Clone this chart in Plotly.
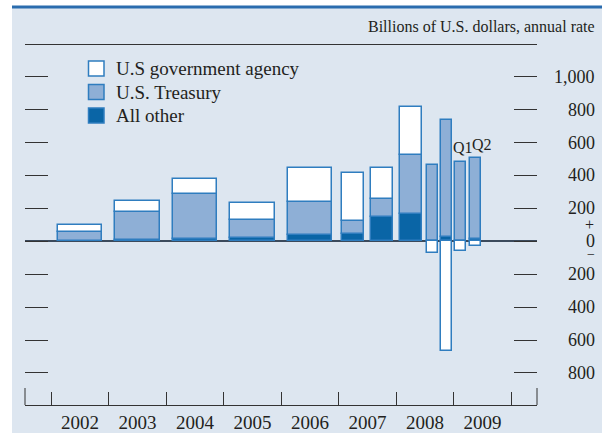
import plotly.graph_objects as go

# foreign purchases of U.S. securities, billions of dollars at an annual rate
periods = ["2002", "2003", "2004", "2005", "2006",
           "2007 H1", "2007 H2", "2008 H1", "2008 Q3", "2008 Q4",
           "2009 Q1", "2009 Q2"]
agency = [44, 71, 89, 102, 208, 290, 187, 292, -73, -665, -57, -27]
treasury = [51, 171, 274, 107, 201, 79, 107, 357, 462, 709, 479, 494]
other = [4, 5, 14, 22, 38, 44, 150, 166, None, 28, 3, 14]

years = ["2002", "2003", "2004", "2005", "2006", "2007", "2008", "2009"]
y_ticks = [-800, -600, -400, -200, 0, 200, 400, 600, 800, 1000]
y_tick_text = ["800", "600", "400", "200", "0", "200", "400", "600", "800", "1,000"]

FONT = "Liberation Serif, Times New Roman, serif"
TEXT = "#231f20"
EDGE = "#2f7dbf"
BG = "#dde6f0"

styling = {
    "U.S government agency": "white",
    "U.S. Treasury": "#8eafd6",
    "All other": "#0a65a6",
}


def period_pos(p):
    # year Y covers [Y-0.5, Y+0.5] on the x axis
    parts = p.split()
    year = int(parts[0])
    if len(parts) == 1:
        return year, 1.0
    length = 0.5 if parts[1][0] == "H" else 0.25
    start = year - 0.5 + (int(parts[1][1]) - 1) * length
    return start + length / 2, length


xs = [period_pos(p)[0] for p in periods]
widths = [0.77 * period_pos(p)[1] for p in periods]


# plot area in pixels: x 25..537, y 45..405
def px(x):
    return (x - 25) / 512.0


def py(y):
    return (405 - y) / 360.0


fig = go.Figure()
for name, vals in [("All other", other), ("U.S. Treasury", treasury),
                   ("U.S government agency", agency)]:
    fig.add_trace(go.Bar(
        name=name, x=xs, y=vals, width=widths, showlegend=False, hoverinfo="skip",
        marker=dict(color=styling[name], line=dict(color=EDGE, width=1.5)),
    ))

shapes = [
    dict(type="rect", xref="paper", yref="paper", x0=px(0), x1=px(12), y0=py(433), y1=py(0),
         fillcolor="white", line_width=0, layer="below"),
    dict(type="rect", xref="paper", yref="paper", x0=px(0), x1=px(602), y0=py(6), y1=py(0),
         fillcolor="white", line_width=0, layer="below"),
    dict(type="line", xref="paper", yref="paper", x0=px(12), x1=px(602), y0=py(7), y1=py(7),
         line=dict(color="#2a6cae", width=3)),
    # taller end ticks of the year axis
    dict(type="line", xref="paper", yref="paper", x0=0, x1=0, y0=0, y1=py(388),
         line=dict(color="#333", width=1)),
    dict(type="line", xref="paper", yref="paper", x0=1, x1=1, y0=0, y1=py(388),
         line=dict(color="#333", width=1)),
]

annotations = []
# legend
for i, name in enumerate(["U.S government agency", "U.S. Treasury", "All other"]):
    top = 61 + i * 23.5
    shapes.append(dict(type="rect", xref="paper", yref="paper",
                       x0=px(88.5), x1=px(104), y0=py(top + 15), y1=py(top),
                       fillcolor=styling[name], line=dict(color=EDGE, width=1.5)))
    annotations.append(dict(xref="paper", yref="paper", x=px(114), y=py(top + 7.5),
                            text=name, showarrow=False, xanchor="left", yanchor="middle",
                            font=dict(family=FONT, size=19, color=TEXT)))

# right-hand value labels
for v, t in zip(y_ticks, y_tick_text):
    annotations.append(dict(xref="paper", yref="y", x=px(597), y=v, text=t,
                            showarrow=False, xanchor="right", yanchor="middle",
                            font=dict(family=FONT, size=18, color=TEXT)))
annotations.append(dict(xref="paper", yref="y", x=px(596), y=0, yshift=17, text="+",
                        showarrow=False, xanchor="right", yanchor="middle",
                        font=dict(family=FONT, size=16, color=TEXT)))
annotations.append(dict(xref="paper", yref="y", x=px(597), y=0, yshift=-13, text="\u2212",
                        showarrow=False, xanchor="right", yanchor="middle",
                        font=dict(family=FONT, size=14, color=TEXT)))

# quarter markers
q1 = periods.index("2009 Q1")
q2 = periods.index("2009 Q2")
annotations.append(dict(x=xs[q1], y=treasury[q1] + other[q1], xshift=2, yshift=4,
                        text="Q1", showarrow=False, yanchor="bottom",
                        font=dict(family=FONT, size=16, color=TEXT)))
annotations.append(dict(x=xs[q2], y=treasury[q2] + other[q2], xshift=7, yshift=3,
                        text="Q2", showarrow=False, yanchor="bottom",
                        font=dict(family=FONT, size=16, color=TEXT)))

annotations.append(dict(xref="paper", yref="paper", x=px(597), y=py(26.5),
                        text="Billions of U.S. dollars, annual rate", showarrow=False,
                        xanchor="right", yanchor="middle",
                        font=dict(family=FONT, size=16, color=TEXT)))

boundaries = [int(y) - 0.5 for y in years] + [int(years[-1]) + 0.5]

fig.update_layout(
    width=602, height=433, autosize=False,
    margin=dict(l=25, r=65, t=45, b=28, pad=0),
    paper_bgcolor=BG, plot_bgcolor=BG,
    barmode="relative", bargap=0,
    font=dict(family=FONT, size=19, color=TEXT),
    shapes=shapes, annotations=annotations,
    xaxis=dict(
        range=[2001.043, 2009.948], tickmode="array", automargin=False,
        tickvals=[int(y) for y in years], ticktext=years, ticks="",
        showline=True, mirror=True, linecolor="#333", linewidth=1,
        showgrid=False, zeroline=False, ticklabelstandoff=0,
        tickfont=dict(family=FONT, size=19, color=TEXT),
        minor=dict(tickmode="array", tickvals=boundaries, ticks="inside",
                   ticklen=13, tickcolor="#333", tickwidth=1, showgrid=False),
    ),
    yaxis=dict(
        range=[-995, 1193], tickmode="array", tickvals=y_ticks, automargin=False,
        ticks="inside", ticklen=23, tickcolor="#333", tickwidth=1,
        mirror="ticks", showline=False, showticklabels=False,
        showgrid=False, zeroline=True, zerolinecolor="#3b4a5c", zerolinewidth=2,
    ),
)

fig.write_html("out.html", config={"displayModeBar": False},
               post_script="document.body.style.margin='0';")
